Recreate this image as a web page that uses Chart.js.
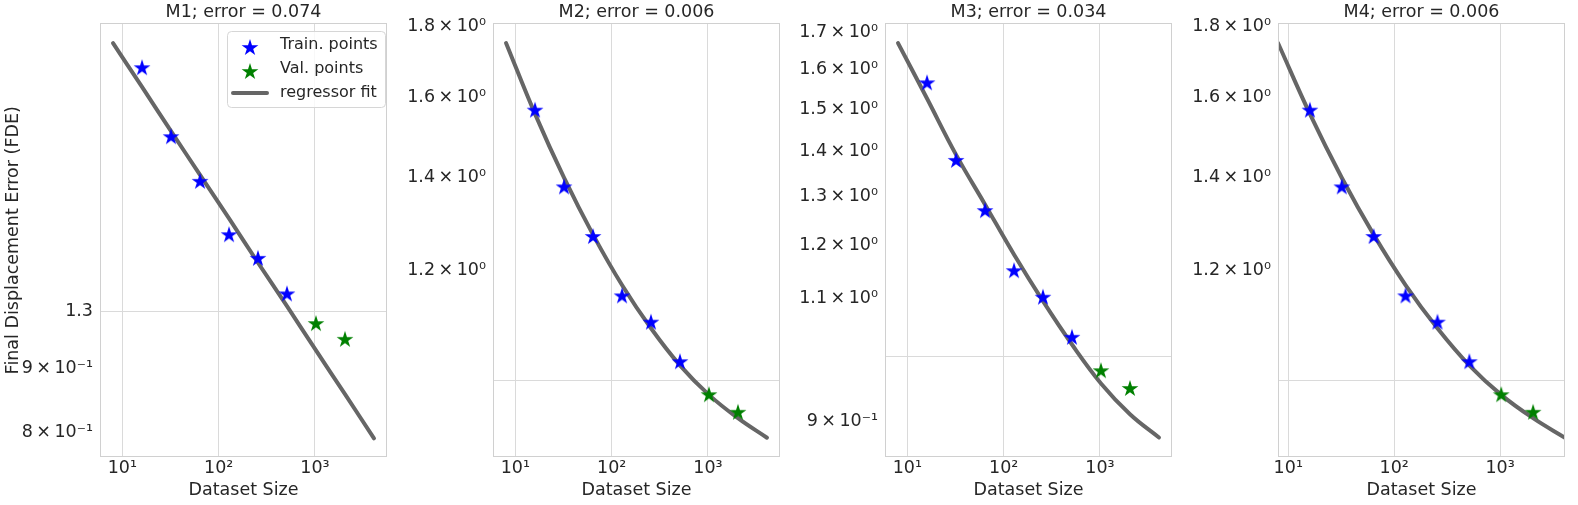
<!DOCTYPE html>
<html>
<head>
<meta charset="utf-8">
<script src="https://cdn.jsdelivr.net/npm/chart.js@4"></script>
<style>
  body { margin: 0; background: #fff; }
  #wrap { position: relative; width: 1578px; height: 505px; }
  canvas { position: absolute; top: 0; }
</style>
</head>
<body>
<div id="wrap">
  <canvas id="m1" width="396" height="505" style="left:0px"></canvas>
  <canvas id="m2" width="396" height="505" style="left:393px"></canvas>
  <canvas id="m3" width="396" height="505" style="left:785px"></canvas>
  <canvas id="m4" width="396" height="505" style="left:1178px"></canvas>
</div>
<script>
// measured points (same for every model)
const trainSizes = [16, 32, 64, 128, 256, 512];
const trainFde = [1.567, 1.380, 1.271, 1.152, 1.103, 1.033];
const valSizes = [1024, 2048];
const valFde = [0.978, 0.950];

// regressor fits
const fitSizes = [8, 16, 32, 64, 128, 256, 512, 1024, 2048, 4096];
const fitM1 = [1.638, 1.511, 1.393, 1.285, 1.186, 1.093, 1.009, 0.930, 0.858, 0.791];
const fitM2 = [1.750, 1.556, 1.400, 1.274, 1.172, 1.091, 1.026, 0.977, 0.940, 0.910];
const fitM3 = [1.671, 1.526, 1.392, 1.283, 1.182, 1.095, 1.020, 0.957, 0.910, 0.876];
const fitM4 = [1.750, 1.556, 1.400, 1.274, 1.172, 1.091, 1.026, 0.977, 0.940, 0.910];

const titles = ['M1; error = 0.074', 'M2; error = 0.006', 'M3; error = 0.034', 'M4; error = 0.006'];

const xTicks = [10, 100, 1000];
const xTickLabels = ['10\u00b9', '10\u00b2', '10\u00b3'];

const T = '\u2009\u00d7\u2009';
const yTicksM1 = [0.8, 0.9, 1.0];
const yLabelsM1 = ['8' + T + '10\u207b\u00b9', '9' + T + '10\u207b\u00b9', '1.3'];
const yTicksM2 = [1.0, 1.2, 1.4, 1.6, 1.8];
const yLabelsM2 = ['', '1.2' + T + '10\u2070', '1.4' + T + '10\u2070', '1.6' + T + '10\u2070', '1.8' + T + '10\u2070'];
const yTicksM3 = [0.9, 1.0, 1.1, 1.2, 1.3, 1.4, 1.5, 1.6, 1.7];
const yLabelsM3 = ['9' + T + '10\u207b\u00b9', '', '1.1' + T + '10\u2070', '1.2' + T + '10\u2070', '1.3' + T + '10\u2070',
  '1.4' + T + '10\u2070', '1.5' + T + '10\u2070', '1.6' + T + '10\u2070', '1.7' + T + '10\u2070'];

const colors = {
  train: '#0000ff',
  val: '#008000',
  fit: '#666666',
  grid: '#dadada',
  spine: '#d0d0d0',
  text: '#262626'
};

Chart.defaults.font.family = 'DejaVu Sans';
Chart.defaults.color = colors.text;

function makeStar(color, r) {
  const c = document.createElement('canvas');
  const size = Math.ceil(r * 2 + 2);
  c.width = size; c.height = size;
  const g = c.getContext('2d');
  const cx = size / 2, cy = size / 2 + r * 0.1;
  g.beginPath();
  for (let i = 0; i < 10; i++) {
    const rad = i % 2 === 0 ? r : r * 0.382;
    const a = -Math.PI / 2 + i * Math.PI / 5;
    const px = cx + rad * Math.cos(a), py = cy + rad * Math.sin(a);
    if (i === 0) g.moveTo(px, py); else g.lineTo(px, py);
  }
  g.closePath();
  g.fillStyle = color;
  g.fill();
  return c;
}
const trainStar = makeStar(colors.train, 8.8);
const valStar = makeStar(colors.val, 8.8);

// grey frame around the plot area
const framePlugin = {
  id: 'frame',
  afterDatasetsDraw(chart) {
    const a = chart.chartArea, ctx = chart.ctx;
    ctx.save();
    ctx.strokeStyle = colors.spine;
    ctx.lineWidth = 1;
    ctx.strokeRect(Math.round(a.left) + 0.5, Math.round(a.top) + 0.5,
      Math.round(a.right - a.left) - 1, Math.round(a.bottom - a.top) - 1);
    ctx.restore();
  }
};

// matplotlib style legend box, top right of the first panel
const legendPlugin = {
  id: 'boxLegend',
  afterDraw(chart) {
    const ctx = chart.ctx;
    const ds = chart.data.datasets;
    const x0 = 227.5, y0 = 31.5, w = 158, h = 76;
    ctx.save();
    ctx.beginPath();
    ctx.roundRect(x0, y0, w, h, 4);
    ctx.fillStyle = 'rgba(255,255,255,0.8)';
    ctx.fill();
    ctx.strokeStyle = '#d6d6d6';
    ctx.lineWidth = 1;
    ctx.stroke();
    ctx.font = '16px "DejaVu Sans"';
    ctx.fillStyle = colors.text;
    ctx.textBaseline = 'middle';
    const rows = [45, 69, 93];
    ds.forEach((d, i) => {
      const y = rows[i];
      if (d.showLine) {
        ctx.strokeStyle = d.borderColor;
        ctx.lineWidth = 4;
        ctx.lineCap = 'round';
        ctx.beginPath();
        ctx.moveTo(233, y);
        ctx.lineTo(267, y);
        ctx.stroke();
      } else {
        const img = d.pointStyle;
        ctx.drawImage(img, 250 - img.width / 2, y + 2 - img.height / 2);
      }
      ctx.fillText(d.label, 280, y);
    });
    ctx.restore();
  }
};

function makePanel(id, title, fit, xRange, yRange, yTicks, yLabels, withYTitle, withLegend) {
  const ctx = document.getElementById(id);
  new Chart(ctx, {
    type: 'scatter',
    data: {
      datasets: [
        {
          label: 'Train. points',
          data: trainSizes.map((s, i) => ({ x: s, y: trainFde[i] })),
          pointStyle: trainStar,
          pointRadius: 8,
          order: 1
        },
        {
          label: 'Val. points',
          data: valSizes.map((s, i) => ({ x: s, y: valFde[i] })),
          pointStyle: valStar,
          pointRadius: 8,
          order: 1
        },
        {
          label: 'regressor fit',
          data: fitSizes.map((s, i) => ({ x: s, y: fit[i] })),
          showLine: true,
          borderColor: colors.fit,
          borderWidth: 4,
          borderCapStyle: 'round',
          pointRadius: 0,
          tension: 0.4,
          order: 2
        }
      ]
    },
    options: {
      responsive: false,
      animation: false,
      layout: { padding: { left: 0, right: 2, top: 0, bottom: 0 } },
      plugins: {
        legend: { display: false },
        tooltip: { enabled: false },
        title: {
          display: true,
          fullSize: false,
          text: title,
          color: colors.text,
          font: { size: 17.5, weight: 'normal' },
          padding: { top: 2, bottom: 0.3 }
        }
      },
      scales: {
        x: {
          type: 'logarithmic',
          min: xRange[0],
          max: xRange[1],
          afterBuildTicks: s => { s.ticks = xTicks.map(v => ({ value: v })); },
          afterFit: s => { s.height = 47.7; s.paddingLeft = 0; s.paddingRight = 0; },
          ticks: {
            autoSkip: false,
            maxRotation: 0,
            padding: 1,
            font: { size: 17.5 },
            callback: (v, i) => xTickLabels[i]
          },
          grid: { color: colors.grid, drawTicks: false },
          border: { display: false },
          title: {
            display: true,
            text: 'Dataset Size',
            font: { size: 17.5 },
            padding: { top: 0, bottom: 4.5 }
          }
        },
        y: {
          type: 'logarithmic',
          min: yRange[0],
          max: yRange[1],
          afterBuildTicks: s => { s.ticks = yTicks.map(v => ({ value: v })); },
          afterFit: s => { s.width = 100; s.paddingTop = 0; s.paddingBottom = 0; },
          ticks: {
            autoSkip: false,
            padding: 7,
            font: { size: 17.5 },
            callback: (v, i) => yLabels[i]
          },
          grid: {
            color: c => (c.tick && Math.abs(c.tick.value - 1) < 1e-9) ? colors.grid : 'rgba(0,0,0,0)',
            drawTicks: false
          },
          border: { display: false },
          title: {
            display: withYTitle,
            text: 'Final Displacement Error (FDE)',
            font: { size: 17.5 },
            padding: { top: 2.5, bottom: 0 }
          }
        }
      }
    },
    plugins: withLegend ? [framePlugin, legendPlugin] : [framePlugin]
  });
}

makePanel('m1', titles[0], fitM1, [5.86, 5592], [0.7638, 1.699], yTicksM1, yLabelsM1, true, true);
makePanel('m2', titles[1], fitM2, [5.86, 5592], [0.881, 1.808], yTicksM2, yLabelsM2, false, false);
makePanel('m3', titles[2], fitM3, [5.86, 5592], [0.848, 1.726], yTicksM3, yLabelsM3, false, false);
makePanel('m4', titles[3], fitM4, [8, 4096], [0.881, 1.808], yTicksM2, yLabelsM2, false, false);
</script>
</body>
</html>
